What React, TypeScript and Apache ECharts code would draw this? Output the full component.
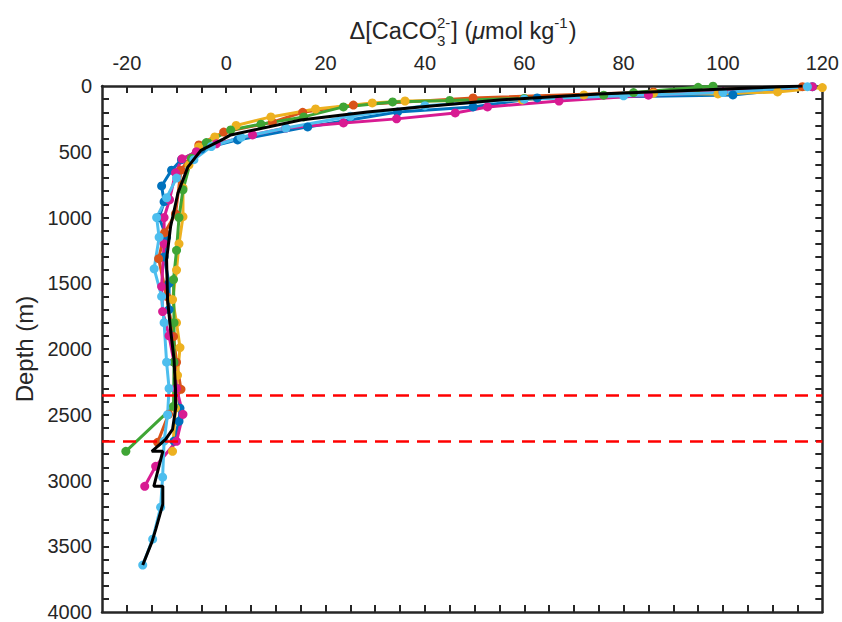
import React, { useEffect, useRef } from "react";
import * as echarts from "echarts";

// ---- Data (value [umol/kg], depth [m]) ----
const blueSeries: [number, number][] = [
  [118, 5], [102, 68], [62.6, 91], [49.7, 159], [34.5, 197], [16.4, 311], [2.3, 410],
  [-5, 480], [-9, 560], [-11, 640], [-13, 760], [-12.5, 880], [-13.5, 1000], [-12, 1150],
  [-12.5, 1300], [-11.5, 1500], [-11.5, 1700], [-11, 1900], [-10.5, 2100], [-10, 2300],
  [-9.3, 2450], [-9.5, 2550], [-10.5, 2700],
];
const orangeSeries: [number, number][] = [
  [116, 5], [86, 45], [49.7, 91], [25.6, 145], [15.4, 200], [9.3, 275], [-0.5, 350],
  [-5.5, 448], [-9.1, 640], [-10.2, 972], [-12.4, 1116], [-13.6, 1313], [-12, 1600],
  [-10.6, 1905], [-10, 2100], [-9.1, 2307], [-11.6, 2497], [-13.8, 2710],
];
const yellowSeries: [number, number][] = [
  [120, 12], [111, 45], [99, 60], [86, 55], [72, 68], [59.6, 106], [36, 114], [29.4, 129],
  [18, 175], [9, 235], [2, 300], [-2.3, 387], [-5.5, 463], [-7.5, 600], [-8.7, 774],
  [-8.7, 994], [-9.5, 1200], [-10, 1400], [-10.8, 1624], [-10, 1800], [-9.3, 1989],
  [-9.8, 2200], [-10.2, 2450], [-10.8, 2778],
];
const magentaSeries: [number, number][] = [
  [118, 5], [100, 45], [85, 70], [67, 114], [52.6, 159], [46.1, 205], [34.3, 250],
  [23.6, 281], [12, 320], [5.3, 372], [-2, 440], [-6, 500], [-8.9, 554], [-10.2, 660],
  [-11.4, 865], [-12.5, 1000], [-12.5, 1200], [-13, 1525], [-12.8, 1715], [-11.5, 1900],
  [-10.5, 2100], [-10, 2300], [-8.7, 2497], [-10, 2702], [-14.2, 2892], [-16.4, 3044],
];
const greenSeries: [number, number][] = [
  [98, 2], [95, 10], [82, 50], [76, 70], [60, 95], [45, 110], [33.5, 121], [23.6, 159],
  [15.6, 235], [7, 290], [0.9, 334], [-4, 430], [-7, 550], [-8.7, 789], [-9.5, 1000],
  [-10, 1250], [-10.6, 1472], [-10.5, 1800], [-10.5, 2100], [-10.6, 2436], [-20.2, 2778],
];
const cyanSeries: [number, number][] = [
  [117, 5], [100, 50], [80, 75], [60, 100], [40, 150], [25, 230], [12, 320], [3, 390],
  [-3, 460], [-6.5, 560], [-10, 700], [-12, 850], [-14, 1000], [-13.5, 1150], [-14.5, 1390],
  [-13, 1600], [-12.5, 1800], [-12, 2100], [-11.5, 2300], [-11.8, 2500], [-12.5, 2700],
  [-12.8, 2975], [-13.2, 3203], [-14.8, 3446], [-16.8, 3643],
];
const meanSeries: [number, number][] = [
  [116, 0], [95.4, 30], [75, 60], [55, 106], [39, 159], [28.4, 197], [15, 258], [0.9, 372],
  [-0.5, 402], [-5.1, 490], [-7.7, 615], [-9.7, 812], [-11.2, 1070], [-12, 1320],
  [-11.8, 1624], [-11.2, 1852], [-10.5, 2080], [-10.2, 2307], [-10.2, 2459], [-10.8, 2611],
  [-12.2, 2687], [-14.97, 2778], [-12.76, 2778], [-14.57, 3044], [-12.76, 3044],
  [-12.76, 3180], [-14.17, 3370], [-14.97, 3469], [-16.8, 3643],
];
const dashedDepths = [2350, 2700];

const xTickLabels = [-20, 0, 20, 40, 60, 80, 100, 120];
const yTickLabels = [0, 500, 1000, 1500, 2000, 2500, 3000, 3500, 4000];

const colored = [
  { data: blueSeries, color: "#0072BD" },
  { data: orangeSeries, color: "#D95319" },
  { data: yellowSeries, color: "#EDB120" },
  { data: magentaSeries, color: "#D81B92" },
  { data: greenSeries, color: "#3FA535" },
  { data: cyanSeries, color: "#4DBEEE" },
];

const FONT = '"Liberation Sans", Arial, Helvetica, sans-serif';
const AX = "#262626";

function measure(text: string, size: number, italic = false) {
  const c = document.createElement("canvas").getContext("2d")!;
  c.font = `${italic ? "italic " : ""}${size}px ${FONT}`;
  return c.measureText(text).width;
}

export default function App() {
  const ref = useRef<HTMLDivElement>(null);
  useEffect(() => {
    if (!ref.current) return;
    const chart = echarts.init(ref.current, undefined, { renderer: "svg" });

    const xMinor: number[] = [];
    for (let v = -20; v < 120; v += 5) xMinor.push(v);
    const yMinor: number[] = [];
    for (let v = 100; v < 4000; v += 100) yMinor.push(v);

    // title pieces
    const M = 23.5, S = 15;
    const parts = [
      { t: "Δ[CaCO", s: M, it: false, kind: "main" },
      { t: "SCRIPT", s: S, it: false, kind: "script" },
      { t: "] (", s: M, it: false, kind: "main" },
      { t: "μ", s: M, it: true, kind: "main" },
      { t: "mol kg", s: M, it: false, kind: "main" },
      { t: "-1", s: S, it: false, kind: "sup" },
      { t: ")", s: M, it: false, kind: "main" },
    ];
    const widths = parts.map((p) =>
      p.kind === "script"
        ? Math.max(measure("2-", S), measure("3", S)) + 1
        : measure(p.t, p.s, p.it) + (p.kind === "sup" ? 1 : 0)
    );
    const total = widths.reduce((a, b) => a + b, 0);
    let cx = 463 - total / 2;
    const titleEls: any[] = [];
    parts.forEach((p, i) => {
      const base = { fill: AX, fontFamily: FONT, align: "left", verticalAlign: "middle" };
      if (p.kind === "script") {
        titleEls.push({ type: "text", x: cx, y: 22, style: { ...base, text: "2-", fontSize: S } });
        titleEls.push({ type: "text", x: cx, y: 40, style: { ...base, text: "3", fontSize: S } });
      } else if (p.kind === "sup") {
        titleEls.push({ type: "text", x: cx, y: 22, style: { ...base, text: p.t, fontSize: S } });
      } else {
        titleEls.push({
          type: "text", x: cx, y: 31,
          style: { ...base, text: p.t, fontSize: p.s, fontStyle: p.it ? "italic" : "normal" },
        });
      }
      cx += widths[i];
    });

    const xBase = (position: "top" | "bottom", labels: boolean) => ({
      type: "value",
      position,
      min: -25,
      max: 120,
      splitLine: { show: false },
      axisLine: { show: true, onZero: false, lineStyle: { color: AX, width: 2.5 } },
      axisTick: { show: true, inside: true, length: 7, customValues: xMinor, lineStyle: { color: AX, width: 2 } },
      axisLabel: {
        show: labels, customValues: xTickLabels, color: AX, fontSize: 20, fontFamily: FONT, margin: 13,
        formatter: (v: number) => String(v),
      },
    });
    const yBase = (position: "left" | "right", labels: boolean) => ({
      type: "value",
      position,
      inverse: true,
      min: 0,
      max: 4000,
      splitLine: { show: false },
      axisLine: { show: true, onZero: false, lineStyle: { color: AX, width: 2.5 } },
      axisTick: { show: true, inside: true, length: 7, customValues: yMinor, lineStyle: { color: AX, width: 2 } },
      axisLabel: {
        show: labels, customValues: yTickLabels, color: AX, fontSize: 20, fontFamily: FONT, margin: 10,
        formatter: (v: number) => String(v),
      },
      ...(labels
        ? {
            name: "Depth (m)", nameLocation: "middle", nameGap: 64, nameRotate: 90,
            nameTextStyle: { color: AX, fontSize: 24, fontFamily: FONT },
          }
        : {}),
    });

    const series: any[] = [
      {
        type: "line", xAxisIndex: 0, yAxisIndex: 0, data: [], z: 1, silent: true,
        markLine: {
          silent: true, symbol: "none", label: { show: false },
          lineStyle: { color: "#FF0000", width: 2.5, type: [13, 8] },
          data: dashedDepths.map((d) => ({ yAxis: d })),
        },
      },
      ...colored.map((c) => ({
        type: "line", xAxisIndex: 0, yAxisIndex: 0, data: c.data, z: 3,
        symbol: "circle", symbolSize: 9, showSymbol: true,
        lineStyle: { color: c.color, width: 3 },
        itemStyle: { color: c.color },
      })),
      {
        type: "line", xAxisIndex: 0, yAxisIndex: 0, data: meanSeries, z: 5,
        symbol: "none", lineStyle: { color: "#000000", width: 3 },
      },
    ];

    chart.setOption({
      animation: false,
      backgroundColor: "#ffffff",
      grid: { left: 102, top: 86, width: 721, height: 527, containLabel: false },
      xAxis: [xBase("top", true), xBase("bottom", false)],
      yAxis: [yBase("left", true), yBase("right", false)],
      series,
      graphic: titleEls,
    });
    return () => chart.dispose();
  }, []);
  return (
    <div
      ref={ref}
      style={{ position: "fixed", left: 0, top: 0, width: 842, height: 622, background: "#fff" }}
    />
  );
}
